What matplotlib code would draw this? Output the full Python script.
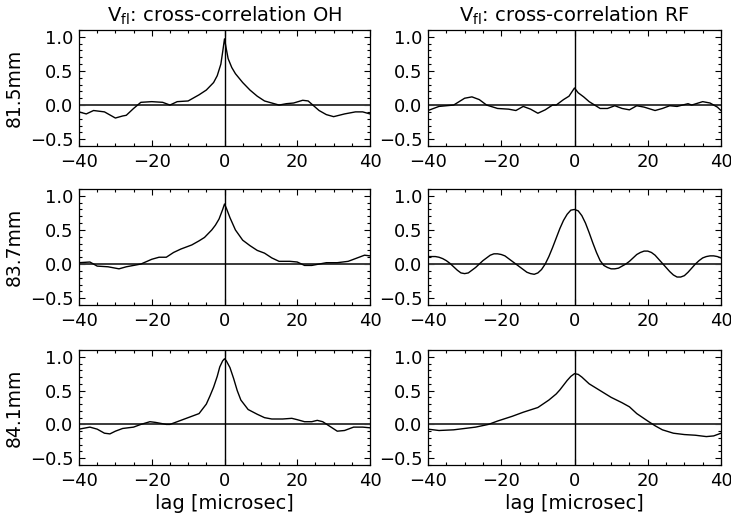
import numpy as np
import matplotlib
matplotlib.use("Agg")
import matplotlib.pyplot as plt
from matplotlib.ticker import MultipleLocator

# lag values and correlation curves, per probe position and signal
lag_oh_815 = [-40, -38, -36, -33, -30, -28, -27, -25, -23, -20, -17, -15, -13, -10, -7, -5, -3, -2, -1, -0.5, 0,
              0.5, 1, 2, 3, 5, 7, 9, 11, 13, 15, 17, 19, 21.5, 23, 26, 28, 30, 33, 36, 38, 40]
cc_oh_815 = [-0.10, -0.13, -0.08, -0.10, -0.19, -0.16, -0.15, -0.05, 0.04, 0.05, 0.04, 0.0, 0.05, 0.06, 0.15, 0.22, 0.33, 0.43, 0.60, 0.78, 0.97,
             0.82, 0.68, 0.55, 0.46, 0.33, 0.22, 0.13, 0.06, 0.03, 0.0, 0.02, 0.03, 0.07, 0.06, -0.08, -0.14, -0.17, -0.13, -0.10, -0.10, -0.13]

lag_rf_815 = [-40, -37, -33, -30, -28, -26, -24, -21, -18, -16, -14, -12, -10, -8, -6, -5, -3, -1.5, 0,
              1, 2.5, 4, 5.5, 7, 9, 11, 13, 15, 17, 19, 22, 24, 26, 28, 31, 32, 35, 37, 39, 40]
cc_rf_815 = [-0.08, -0.02, 0.0, 0.10, 0.12, 0.08, 0.0, -0.05, -0.06, -0.08, -0.02, -0.06, -0.12, -0.07, 0.0, 0.0, 0.08, 0.13, 0.25,
             0.18, 0.12, 0.05, 0.0, -0.05, -0.05, -0.01, -0.05, -0.07, -0.01, -0.03, -0.08, -0.05, -0.01, -0.02, 0.02, 0.0, 0.05, 0.03, -0.03, -0.08]

lag_oh_837 = [-40, -37, -35, -32, -29, -27, -25, -23, -20, -18, -16, -14, -12, -9, -7, -5.5, -3.5, -2.5, -1.5, -0.5, 0,
              0.5, 1.5, 3, 5, 7, 9, 11, 13, 15, 18, 20, 22, 24, 26, 28, 31, 34, 37, 38.5, 40]
cc_oh_837 = [0.02, 0.03, -0.03, -0.04, -0.07, -0.04, -0.02, 0.0, 0.07, 0.10, 0.10, 0.17, 0.22, 0.28, 0.34, 0.39, 0.50, 0.57, 0.66, 0.80, 0.88,
             0.82, 0.68, 0.50, 0.35, 0.27, 0.20, 0.16, 0.09, 0.04, 0.04, 0.03, -0.02, -0.02, 0.0, 0.02, 0.02, 0.04, 0.10, 0.13, 0.12]

lag_rf_837 = [-40, -39, -38, -37, -36, -35, -34, -33, -32, -31, -30, -29, -28, -27, -26, -25, -24, -23, -22, -21,
              -20, -19, -18, -17, -16, -15, -14, -13, -12, -11, -10, -9, -8, -7, -6, -5, -4, -3, -2, -1,
              0, 1, 2, 3, 4, 5, 6, 7, 8, 9, 10, 11, 12, 13, 14, 15, 16, 17, 18, 19,
              20, 21, 22, 23, 24, 25, 26, 27, 28, 29, 30, 31, 32, 33, 34, 35, 36, 37, 38, 39, 40]
cc_rf_837 = [0.11, 0.11, 0.11, 0.10, 0.08, 0.05, 0.01, -0.04, -0.09, -0.13, -0.14, -0.13, -0.09, -0.05, 0.0, 0.05, 0.09, 0.13, 0.15, 0.15,
             0.14, 0.12, 0.08, 0.04, 0.0, -0.04, -0.08, -0.12, -0.14, -0.15, -0.13, -0.08, 0.0, 0.11, 0.24, 0.38, 0.52, 0.64, 0.73, 0.79,
             0.80, 0.78, 0.71, 0.60, 0.46, 0.31, 0.17, 0.05, -0.02, -0.05, -0.07, -0.07, -0.06, -0.03, 0.0, 0.04, 0.09, 0.14, 0.17, 0.19,
             0.19, 0.17, 0.13, 0.07, 0.01, -0.05, -0.11, -0.16, -0.19, -0.19, -0.17, -0.12, -0.06, 0.0, 0.05, 0.09, 0.11, 0.12, 0.12, 0.11, 0.09]

lag_oh_841 = [-40, -37, -35, -33, -31.5, -30, -28, -25, -23, -20.5, -19, -16, -15, -13, -11, -9, -7, -5, -4, -3, -2, -1.3, -0.5, 0,
              0.5, 1.5, 2.5, 3.5, 4.5, 6.5, 9, 11, 13, 16, 18.5, 20, 22, 24, 25.5, 27, 29, 31, 33, 35.5, 38, 40]
cc_oh_841 = [-0.07, -0.04, -0.07, -0.13, -0.14, -0.10, -0.06, -0.04, 0.0, 0.04, 0.03, 0.0, 0.0, 0.04, 0.08, 0.12, 0.16, 0.30, 0.42, 0.55, 0.71, 0.85, 0.94, 0.97,
             0.94, 0.84, 0.68, 0.50, 0.36, 0.22, 0.15, 0.10, 0.08, 0.08, 0.09, 0.07, 0.04, 0.04, 0.06, 0.04, -0.03, -0.10, -0.09, -0.04, -0.04, -0.05]

lag_rf_841 = [-40, -37, -33, -30, -27, -23.5, -21, -17, -14, -10, -7, -5, -4, -3, -2, -1, 0,
              1, 2, 3, 4, 5.5, 7, 10, 13, 15, 17, 20, 22, 24, 27, 30, 33, 36, 38, 40]
cc_rf_841 = [-0.07, -0.09, -0.08, -0.06, -0.04, 0.0, 0.05, 0.12, 0.18, 0.25, 0.36, 0.45, 0.51, 0.58, 0.65, 0.71, 0.75,
             0.74, 0.70, 0.65, 0.60, 0.55, 0.50, 0.40, 0.32, 0.26, 0.16, 0.05, -0.02, -0.08, -0.13, -0.15, -0.16, -0.18, -0.17, -0.13]

positions = ["81.5mm", "83.7mm", "84.1mm"]
curves = [
    [(lag_oh_815, cc_oh_815), (lag_rf_815, cc_rf_815)],
    [(lag_oh_837, cc_oh_837), (lag_rf_837, cc_rf_837)],
    [(lag_oh_841, cc_oh_841), (lag_rf_841, cc_rf_841)],
]
titles = [r"V$_{\mathrm{fl}}$: cross-correlation OH", r"V$_{\mathrm{fl}}$: cross-correlation RF"]

W, H = 731, 517
fig = plt.figure(figsize=(W / 100, H / 100), dpi=100)
plt.rcParams["font.family"] = ["DejaVu Sans"]
plt.rcParams["mathtext.fontset"] = "dejavusans"

col_x = [(79, 370), (428, 721)]
row_y = [(30, 146), (189, 305), (350, 465)]


def minus(s):
    return s.replace("-", "\u2212")


for r in range(3):
    for c in range(2):
        x0, x1 = col_x[c]
        y0, y1 = row_y[r]
        ax = fig.add_axes([x0 / W, 1 - y1 / H, (x1 - x0) / W, (y1 - y0) / H])
        lag, cc = curves[r][c]
        ax.axhline(0, color="#3a3a3a", lw=1.4)
        ax.axvline(0, color="black", lw=1.0)
        ax.plot(lag, cc, color="black", lw=1.0)
        ax.set_xlim(-40, 40)
        ax.set_ylim(-0.6, 1.1)
        ax.xaxis.set_major_locator(MultipleLocator(20))
        ax.xaxis.set_minor_locator(MultipleLocator(5))
        ax.yaxis.set_major_locator(MultipleLocator(0.5))
        ax.yaxis.set_minor_locator(MultipleLocator(0.1))
        ax.yaxis.set_major_formatter(plt.FuncFormatter(lambda v, p: minus(f"{v:.1f}")))
        ax.xaxis.set_major_formatter(plt.FuncFormatter(lambda v, p: minus(f"{v:.0f}")))
        ax.tick_params(which="both", direction="in", top=True, right=True, labelsize=13, width=0.8)
        ax.tick_params(which="major", length=4)
        ax.tick_params(which="minor", length=2.3)
        ax.tick_params(axis="x", which="major", pad=5)
        ax.tick_params(axis="y", which="major", pad=4)
        for s in ax.spines.values():
            s.set_linewidth(0.9)
        if c == 0:
            ax.set_ylabel(positions[r], fontsize=13.5)
            ax.yaxis.set_label_coords((24 - x0) / (x1 - x0), 0.5)
        if r == 0:
            fig.text((x0 + x1) / 2 / W, 1 - 22 / H, titles[c], fontsize=14,
                     ha="center", va="baseline")
        if r == 2:
            fig.text((x0 + x1) / 2 / W, 1 - 509 / H, "lag [microsec]", fontsize=14,
                     ha="center", va="baseline")

fig.savefig("out.png", dpi=100)
